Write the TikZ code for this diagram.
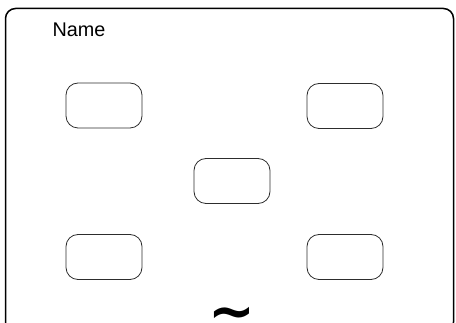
\documentclass[tikz,border=0pt]{standalone}
\usepackage{fontspec}
\setmainfont{Liberation Sans}
\newfontfamily\tildefont{DejaVu Sans}
\definecolor{SlotGray}{RGB}{45,45,45}

\begin{document}
\begin{tikzpicture}[x=1pt, y=-1pt,
    slot/.style={draw=SlotGray, line width=0.8pt, rounded corners=12pt,
        minimum width=76pt, minimum height=45pt, inner sep=0pt}]
    \useasboundingbox (0,0) rectangle (456,323);
    \draw[line width=1.5pt, rounded corners=10pt] (5.5,8.5) rectangle (453.5,332);
    \node[anchor=base, inner sep=0pt, font=\fontsize{19.8}{23}\selectfont] (name) at (79,36.3) {Name};
    \node[slot] (topleft) at (104,105.5) {};
    \node[slot] (topright) at (345,106) {};
    \node[slot] (center) at (232,181) {};
    \node[slot] (bottomleft) at (104,257) {};
    \node[slot] (bottomright) at (345,257) {};
    \node[anchor=base, inner sep=0pt, font=\tildefont\bfseries\fontsize{56}{56}\selectfont] (tilde) at (231.5,331) {\textasciitilde};
\end{tikzpicture}
\end{document}
